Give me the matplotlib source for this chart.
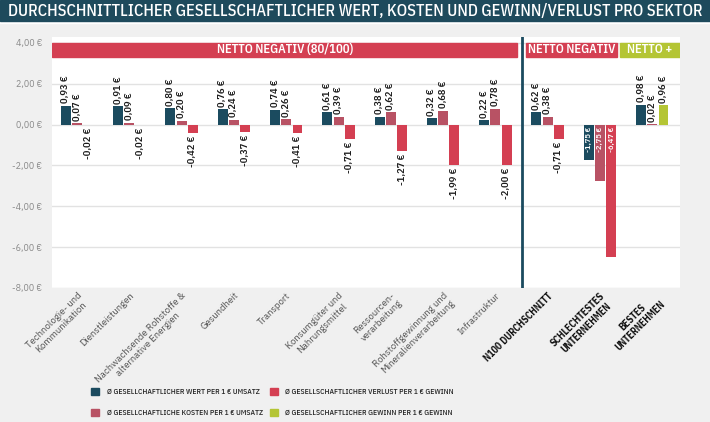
import numpy as np
import matplotlib
matplotlib.use("Agg")
import matplotlib.pyplot as plt
from matplotlib.patches import Patch

cond = ["IBM Plex Sans Condensed", "DejaVu Sans"]
plt.rcParams["font.family"] = ["IBM Plex Sans", "DejaVu Sans"]

categories = ["Technologie- und\nKommunikation", "Dienstleistungen",
              "Nachwachsende Rohstoffe &\nalternative Energien", "Gesundheit",
              "Transport", "Konsumgüter und\nNahrungsmittel", "Ressourcen-\nverarbeitung",
              "Rohstoffgewinnung und\nMineralienverarbeitung", "Infrastruktur",
              "N100 DURCHSCHNITT", "SCHLECHTESTES\nUNTERNEHMEN", "BESTES\nUNTERNEHMEN"]
wert = [0.93, 0.91, 0.80, 0.76, 0.74, 0.61, 0.38, 0.32, 0.22, 0.62, -1.75, 0.98]
kosten = [0.07, 0.09, 0.20, 0.24, 0.26, 0.39, 0.62, 0.68, 0.78, 0.38, -2.75, 0.02]
gewinn_verlust = [-0.02, -0.02, -0.42, -0.37, -0.41, -0.71, -1.27, -1.99, -2.00, -0.71, -6.47, 0.96]
yticks = [-8, -6, -4, -2, 0, 2, 4]

c_wert = "#1b4b5f"
c_kost = "#b85264"
c_verl = "#d43f52"
c_gew = "#b4c534"

fig = plt.figure(figsize=(7.1, 4.22), dpi=100, facecolor="#f0f0f0")
ax = fig.add_axes([52 / 710, 1 - 288 / 422, 628 / 710, 251 / 422])
ax.set_facecolor("white")

# title bar with a thin light line under it
fig.patches.append(plt.Rectangle((0, 1 - 23 / 422), 1, 2 / 422, transform=fig.transFigure,
                                 color="white", zorder=0))
fig.patches.append(plt.Rectangle((0, 1 - 21 / 422), 1, 21 / 422, transform=fig.transFigure,
                                 color="#1e4a5c", zorder=0))
fig.text(0.5, 1 - 11 / 422, "DURCHSCHNITTLICHER GESELLSCHAFTLICHER WERT, KOSTEN UND GEWINN/VERLUST PRO SEKTOR",
         color="white", fontsize=11.75, ha="center", va="center", family=cond, fontweight="medium")

x = np.arange(len(categories))
off, w = 0.215, 0.19
third_colors = [c_verl] * 11 + [c_gew]
ax.bar(x - off, wert, w, color=c_wert, zorder=3)
ax.bar(x, kosten, w, color=c_kost, zorder=3)
ax.bar(x + off, gewinn_verlust, w, color=third_colors, zorder=3)


def fmt(v):
    return f"{v:.2f} €".replace(".", ",")


for i in range(len(categories)):
    for dx, v in zip((-off, 0, off), (wert[i], kosten[i], gewinn_verlust[i])):
        if i == 10:
            # worst company: labels sit inside the bars
            ax.text(x[i] + dx, -0.12, fmt(v), rotation=90, ha="center", va="top", family=cond,
                    color="white", fontsize=6, fontweight="semibold", zorder=4)
        elif v >= 0:
            ax.text(x[i] + dx, v + 0.12, fmt(v), rotation=90, ha="center", va="bottom", family=cond,
                    color="#1a1a1a", fontsize=7.5, fontweight="semibold", zorder=4)
        else:
            ax.text(x[i] + dx, v - 0.12, fmt(v), rotation=90, ha="center", va="top", family=cond,
                    color="#1a1a1a", fontsize=7.5, fontweight="semibold", zorder=4)

ax.set_xlim(-0.48, 11.53)
ax.set_ylim(-8, 4.29)
ax.set_yticks(yticks)
ax.set_yticklabels([fmt(t) for t in yticks], color="#8a8a8a", fontsize=6.5)
ax.grid(axis="y", color="#e2e2e2", lw=1, zorder=0)
ax.tick_params(length=0, pad=7)
for s in ax.spines.values():
    s.set_visible(False)

ax.set_xticks(x)
ax.set_xticklabels(categories, rotation=45, ha="right", va="top", rotation_mode="anchor",
                   fontsize=6.8, multialignment="center")
for i, lab in enumerate(ax.get_xticklabels()):
    if i >= 9:
        lab.set_fontweight("bold")
        lab.set_family(cond)
        lab.set_fontsize(7)
        lab.set_color("#111111")
    else:
        lab.set_color("#555555")
ax.tick_params(axis="x", pad=2)

# separator and banners
ax.axvline(8.5, color=c_wert, lw=2, zorder=5)
for x0, x1, col, txt in [(-0.48, 8.42, c_verl, "NETTO NEGATIV (80/100)"),
                         (8.59, 10.32, c_verl, "NETTO NEGATIV"),
                         (10.38, 11.53, c_gew, "NETTO +")]:
    ax.add_patch(plt.Rectangle((x0, 3.3), x1 - x0, 0.72, color=col, zorder=5))
    ax.text((x0 + x1) / 2, 3.66, txt, color="white", fontsize=9, fontweight="semibold",
            family=cond, ha="center", va="center", zorder=6)

handles = [Patch(color=c_wert, label="Ø GESELLCHAFTLICHER WERT PER 1 € UMSATZ"),
           Patch(color=c_kost, label="Ø GESELLCHAFTLICHE KOSTEN PER 1 € UMSATZ"),
           Patch(color=c_verl, label="Ø GESELLSCHAFTLICHER VERLUST PER 1 € GEWINN"),
           Patch(color=c_gew, label="Ø GESELLSCHAFTLICHER GEWINN PER 1 € GEWINN")]
fig.legend(handles=handles, ncol=2, loc="center left", bbox_to_anchor=(84 / 710, 1 - 402 / 422),
           frameon=False, handlelength=1.05, handleheight=1.05, columnspacing=0.9,
           labelspacing=1.85, handletextpad=1.0, labelcolor="#222222",
           prop={"family": cond, "size": 5.5, "weight": "medium"})

fig.savefig("out.png", dpi=100, facecolor=fig.get_facecolor())
